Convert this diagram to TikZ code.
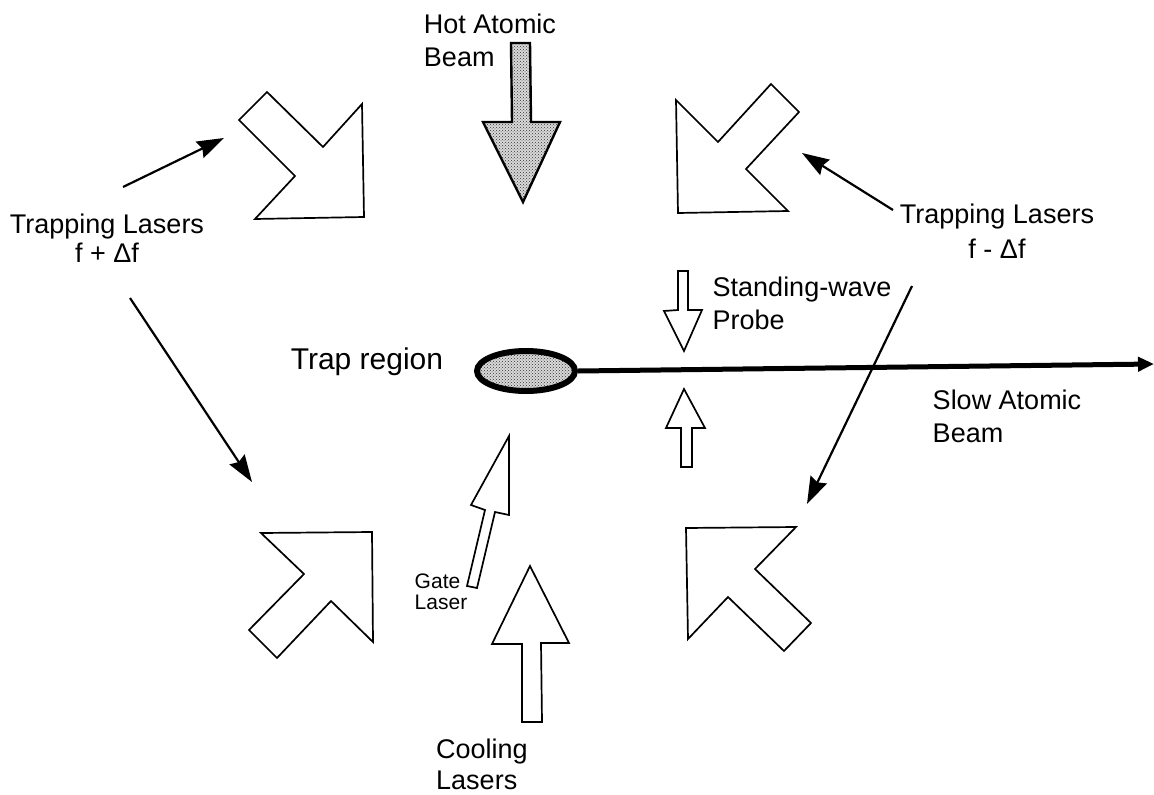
\documentclass[tikz,border=0pt]{standalone}
\usepackage{fontspec}
\setmainfont{Liberation Sans}
\usetikzlibrary{arrows.meta,shapes.geometric,patterns}
\tikzset{
	laser/.style={draw,line width=1.7pt,fill=white},
	hotbeam/.style={draw,line width=2.4pt,preaction={fill=gray!30},pattern=crosshatch dots,pattern color=black!80},
	leader/.style={line width=2.2pt,-{Stealth[length=27pt,width=18pt,inset=3pt]}},
	lbl/.style={font=\fontsize{27}{33}\selectfont,align=center,inner sep=0pt},
	lblleft/.style={lbl,align=left},
}
\begin{document}
\begin{tikzpicture}[x=1pt,y=-1pt]
	\useasboundingbox (0,0) rectangle (1154,795);
	\draw[laser] (267,92) -- (323,147) -- (362,104) -- (364,217) -- (255,219) -- (295,176) -- (239,120) -- cycle;
	\draw[laser] (771,84) -- (799,112) -- (746,169) -- (788,211) -- (678,213) -- (676,100) -- (718,142) -- cycle;
	\draw[laser] (261,533) -- (372,532) -- (373,642) -- (331,601) -- (277,658) -- (249,630) -- (304,574) -- cycle;
	\draw[laser] (686,528) -- (796,527) -- (755,569) -- (811,623) -- (784,651) -- (728,597) -- (688,639) -- cycle;
	\draw[hotbeam] (511,43) -- (530,43) -- (531,122) -- (560,122) -- (523,202) -- (483,122) -- (512,122) -- cycle;
	\draw[laser] (678,271) -- (688,271) -- (688,310) -- (702,310) -- (684,351) -- (664,311) -- (678,310) -- cycle;
	\draw[laser] (684,389) -- (705,428) -- (692,428) -- (692,467) -- (681,467) -- (681,428) -- (666,428) -- cycle;
	\draw[laser] (509,436) -- (509,515) -- (495,512) -- (477,588) -- (467,586) -- (485,510) -- (471,505) -- cycle;
	\draw[laser] (530,566) -- (569,643) -- (541,643) -- (542,722) -- (522,722) -- (522,644) -- (492,644) -- cycle;

	\node[ellipse,draw,line width=6pt,inner sep=0pt,minimum width=98pt,minimum height=40pt,
		preaction={fill=gray!30},pattern=crosshatch dots,pattern color=black!80] (trap) at (526,371) {};
	\coordinate (beamend) at (1154,364);
	\draw[line width=5pt,-{Triangle[length=16pt,width=14pt]}] (trap.east) -- (beamend);

	\node[lblleft] (hot) at (490,40) {Hot Atomic\\Beam};
	\node[lbl] (trapleft) at (107,238) {Trapping Lasers\\[-4pt]f + Δf};
	\node[lbl] (trapright) at (997,231) {Trapping Lasers\\[2pt]f - Δf};
	\node[lblleft] (probe) at (802,303) {Standing-wave\\Probe};
	\node[lbl,font=\fontsize{30}{33}\selectfont] (region) at (367,362) {Trap region};
	\node[lblleft] (slow) at (1007,416) {Slow Atomic\\Beam};
	\node[lblleft,font=\fontsize{21}{21}\selectfont] (gate) at (441,592) {Gate\\Laser};
	\node[lblleft] (cooling) at (482,764) {Cooling\\[-2pt]Lasers};

	\coordinate (upleftstart) at (123,187);
	\coordinate (uplefttip) at (224,138);
	\coordinate (lowleftstart) at (130,298);
	\coordinate (lowlefttip) at (252,482);
	\coordinate (uprightstart) at (893,210);
	\coordinate (uprighttip) at (802,153);
	\coordinate (lowrightstart) at (912,286);
	\coordinate (lowrighttip) at (807,504);
	\draw[leader] (upleftstart) -- (uplefttip);
	\draw[leader] (lowleftstart) -- (lowlefttip);
	\draw[leader] (uprightstart) -- (uprighttip);
	\draw[leader] (lowrightstart) -- (lowrighttip);
\end{tikzpicture}
\end{document}
